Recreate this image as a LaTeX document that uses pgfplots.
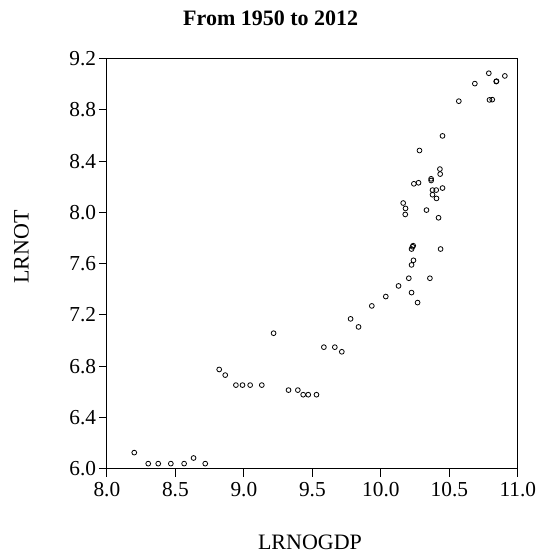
\documentclass[border=0pt]{standalone}
\usepackage{pgfplots}
\pgfplotsset{compat=1.18}
\usepackage{fontspec}
\setmainfont{Liberation Serif}

\begin{document}
\begin{tikzpicture}[x=1pt,y=1pt]
\useasboundingbox (0,0) rectangle (404.25,418.5);
\begin{axis}[
  at={(78,69.75)}, anchor=south west,
  scale only axis,
  width=308.25pt, height=307.5pt,
  xmin=8, xmax=11, ymin=6, ymax=9.2,
  xtick={8,8.5,...,11}, ytick={6,6.4,...,9.2},
  axis line style={line width=0.9pt, black},
  tick style={line width=0.8pt, black},
  tick align=outside,
  major tick length=6pt,
  xtick pos=bottom, ytick pos=left,
  /pgf/number format/assume math mode=true,
  xticklabel style={font=\fontsize{16}{18}\selectfont, /pgf/number format/.cd, fixed, fixed zerofill, precision=1},
  yticklabel style={font=\fontsize{16}{18}\selectfont, /pgf/number format/.cd, fixed, fixed zerofill, precision=1},
  xticklabel shift=1pt,
  yticklabel shift=-1.5pt,
  clip=false,
]
\addplot[only marks, mark=o, mark size=1.8pt, mark options={line width=0.6pt, black}] coordinates {
  (8.200,6.125) (8.302,6.039) (8.375,6.039) (8.467,6.039) (8.564,6.039)
  (8.633,6.083) (8.718,6.039) (8.820,6.774) (8.864,6.730) (8.942,6.652)
  (8.990,6.652) (9.046,6.652) (9.131,6.652) (9.217,7.057) (9.326,6.613)
  (9.394,6.613) (9.433,6.577) (9.470,6.577) (9.530,6.577) (9.584,6.948)
  (9.664,6.948) (9.715,6.912) (9.779,7.169) (9.837,7.106) (9.934,7.270)
  (10.036,7.343) (10.129,7.426) (10.204,7.486) (10.224,7.374) (10.268,7.296)
  (10.358,7.486) (10.224,7.590) (10.238,7.626) (10.224,7.714) (10.231,7.732)
  (10.236,7.740) (10.436,7.714) (10.163,8.073) (10.180,8.031) (10.178,7.984)
  (10.333,8.018) (10.421,7.958) (10.241,8.223) (10.275,8.231) (10.367,8.262)
  (10.367,8.249) (10.377,8.174) (10.404,8.174) (10.377,8.138) (10.406,8.109)
  (10.450,8.190) (10.431,8.338) (10.433,8.299) (10.282,8.483) (10.450,8.597)
  (10.569,8.868) (10.686,9.005) (10.788,9.086) (10.842,9.021) (10.844,9.024)
  (10.793,8.878) (10.813,8.880) (10.905,9.065)
};
\end{axis}
\node[font=\fontsize{16.5}{18}\selectfont\bfseries] at (203,404.6) {From 1950 to 2012};
\node[font=\fontsize{16.5}{18}\selectfont] at (232.5,11.5) {LRNOGDP};
\node[font=\fontsize{16.5}{18}\selectfont, rotate=90] at (16,233.25) {LRNOT};
\end{tikzpicture}
\end{document}
